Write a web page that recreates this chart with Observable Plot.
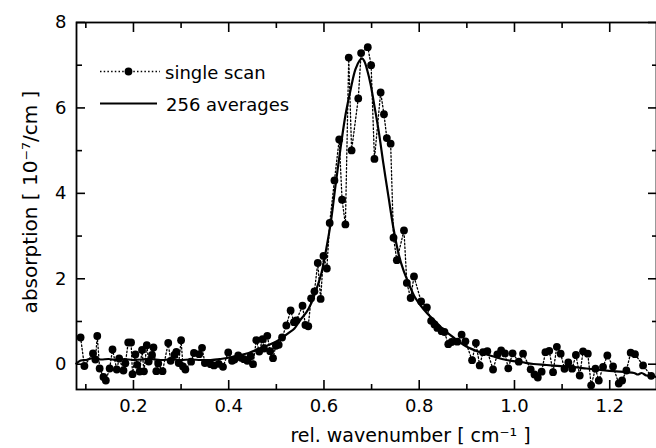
<!DOCTYPE html>
<html><head><meta charset="utf-8">
<script src="https://cdn.jsdelivr.net/npm/d3@7"></script>
<script src="https://cdn.jsdelivr.net/npm/@observablehq/plot@0.6"></script>
<style>
body{margin:0;background:#fff;}
#wrap{position:relative;width:656px;height:448px;overflow:hidden;background:#fff;}
#legend{position:absolute;left:0;top:0;pointer-events:none;}
</style></head><body><div id="wrap"></div>
<script>
// single scan (dotted line with points)
const scanX = [0.089,0.097,0.115,0.120,0.124,0.129,0.137,0.142,0.150,0.156,0.165,0.170,0.179,0.183,0.189,0.195,0.198,0.204,0.208,0.213,0.218,0.222,0.228,0.232,0.239,0.242,0.248,0.252,0.261,0.273,0.278,0.286,0.290,0.295,0.300,0.304,0.309,0.321,0.327,0.338,0.344,0.350,0.362,0.369,0.379,0.388,0.399,0.407,0.412,0.420,0.426,0.432,0.439,0.446,0.451,0.458,0.464,0.471,0.474,0.481,0.487,0.493,0.499,0.505,0.512,0.521,0.530,0.537,0.542,0.555,0.561,0.567,0.573,0.580,0.587,0.593,0.599,0.606,0.612,0.622,0.632,0.638,0.645,0.652,0.658,0.672,0.678,0.692,0.699,0.706,0.719,0.726,0.732,0.740,0.746,0.753,0.768,0.774,0.782,0.789,0.804,0.816,0.825,0.832,0.838,0.847,0.853,0.861,0.868,0.880,0.889,0.897,0.911,0.919,0.927,0.934,0.943,0.955,0.964,0.972,0.980,0.987,0.996,1.009,1.018,1.034,1.042,1.049,1.057,1.065,1.073,1.081,1.089,1.097,1.105,1.113,1.121,1.129,1.137,1.144,1.154,1.161,1.170,1.177,1.186,1.195,1.207,1.219,1.226,1.235,1.244,1.253,1.270,1.287];
const scanY = [0.625,-0.042,0.251,0.110,0.660,-0.101,-0.300,-0.382,-0.101,0.344,-0.124,0.133,-0.148,0.023,0.508,0.508,-0.234,0.227,-0.014,-0.171,0.333,-0.166,0.443,0.063,0.215,0.391,-0.164,0.016,-0.164,0.496,0.080,0.215,0.286,0.028,0.560,-0.054,-0.124,0.059,0.262,0.234,0.384,0.028,0.000,-0.030,0.009,-0.061,0.274,0.080,0.110,0.204,0.150,0.117,0.080,0.187,0.000,0.562,0.297,0.585,0.368,0.665,0.304,0.141,0.431,0.454,0.625,0.906,1.258,0.984,1.023,1.368,0.918,0.888,1.543,1.707,2.370,1.527,2.534,2.241,3.307,4.302,5.262,3.850,3.272,7.178,5.005,6.222,7.283,7.422,7.000,4.806,6.363,5.852,5.293,5.162,2.960,2.436,3.131,1.902,1.550,2.054,1.468,1.328,1.016,0.930,0.848,0.773,0.754,0.468,0.520,0.527,0.691,0.536,0.094,0.496,-0.030,0.281,0.304,-0.124,0.227,0.321,0.251,-0.096,0.255,0.059,0.246,-0.119,-0.241,-0.311,-0.176,0.281,0.314,-0.187,0.407,0.246,-0.108,0.040,-0.105,0.215,-0.265,0.302,0.246,-0.494,-0.105,-0.382,-0.061,0.204,-0.054,-0.452,-0.382,-0.148,0.269,0.234,-0.030,-0.272];
// 256 averages (solid line)
const avgX = [0.080,0.089,0.101,0.116,0.131,0.148,0.164,0.181,0.198,0.215,0.236,0.257,0.278,0.299,0.320,0.341,0.362,0.383,0.400,0.421,0.442,0.463,0.484,0.500,0.513,0.526,0.538,0.551,0.563,0.574,0.584,0.595,0.605,0.614,0.624,0.635,0.645,0.656,0.666,0.675,0.680,0.685,0.691,0.698,0.705,0.715,0.725,0.736,0.746,0.757,0.767,0.778,0.790,0.803,0.817,0.834,0.851,0.872,0.899,0.929,0.956,0.983,1.013,1.040,1.067,1.097,1.124,1.151,1.181,1.208,1.235,1.251,1.259,1.267,1.277,1.288,1.298];
const avgY = [0.016,0.087,0.098,0.145,0.110,0.122,0.098,0.122,0.098,0.110,0.122,0.098,0.110,0.098,0.110,0.098,0.098,0.122,0.150,0.204,0.262,0.356,0.450,0.532,0.625,0.731,0.836,1.047,1.211,1.445,1.749,2.148,2.710,3.295,4.162,5.075,5.824,6.433,6.902,7.112,7.159,7.089,6.878,6.550,6.105,5.450,4.677,3.881,3.178,2.569,2.194,1.890,1.585,1.375,1.187,1.000,0.813,0.625,0.415,0.274,0.180,0.098,0.052,0.005,-0.019,-0.047,-0.070,-0.101,-0.136,-0.164,-0.187,-0.206,-0.241,-0.206,-0.265,-0.276,-0.300];

const xMajor = [0.2, 0.4, 0.6, 0.8, 1.0, 1.2];
const xMinor = [0.1, 0.3, 0.5, 0.7, 0.9, 1.1];
const yMajor = [0, 2, 4, 6, 8];
const yMinor = [1, 3, 5, 7];
const legendLabels = ["single scan", "256 averages"];
const xTitle = "rel. wavenumber [ cm\u207B\u00B9 ]";
const yTitle = "absorption [ 10\u207B\u2077/cm ]";

const scan = scanX.map((x, i) => ({x, y: scanY[i]}));
const avg = avgX.map((x, i) => ({x, y: avgY[i]}));

const tickOpts = {tickFormat: () => "", label: null, strokeWidth: 1.6, stroke: "black"};

const plot = Plot.plot({
  width: 656, height: 448,
  marginTop: 22, marginBottom: 59, marginLeft: 76, marginRight: 0,
  style: {fontFamily: "DejaVu Sans", fontSize: "18px", background: "white", color: "black"},
  x: {domain: [0.0804, 1.2982]},
  y: {domain: [-0.5925, 8]},
  marks: [
    Plot.line(scan, {x: "x", y: "y", stroke: "black", strokeWidth: 1.3, strokeDasharray: "1.5,2.2"}),
    Plot.line(avg, {x: "x", y: "y", stroke: "black", strokeWidth: 2.2, curve: "catmull-rom"}),
    Plot.dot(scan, {x: "x", y: "y", r: 3.9, fill: "black"}),
    Plot.frame({stroke: "black", strokeWidth: 1.8}),
    Plot.axisX(xMajor, {anchor: "bottom", tickSize: -9, ...tickOpts}),
    Plot.axisX(xMinor, {anchor: "bottom", tickSize: -5, ...tickOpts}),
    Plot.axisX(xMajor, {anchor: "top", tickSize: -9, ...tickOpts}),
    Plot.axisX(xMinor, {anchor: "top", tickSize: -5, ...tickOpts}),
    Plot.axisY(yMajor, {anchor: "left", tickSize: -9, ...tickOpts}),
    Plot.axisY(yMinor, {anchor: "left", tickSize: -6, ...tickOpts}),
    Plot.axisY(yMajor, {anchor: "right", tickSize: -9, ...tickOpts}),
    Plot.axisY(yMinor, {anchor: "right", tickSize: -5, ...tickOpts}),
    Plot.axisX(xMajor, {anchor: "bottom", tickSize: 0, tickPadding: 10, tickFormat: d3.format(".1f"), label: null, fill: "black"}),
    Plot.axisY(yMajor, {anchor: "left", tickSize: 0, tickPadding: 10, tickFormat: d => String(d), label: null, fill: "black"}),
    Plot.text([xTitle], {text: d => d, frameAnchor: "bottom", textAnchor: "middle", lineAnchor: "middle", dx: 44, dy: 46, fontSize: 19, fill: "black"}),
    Plot.text([yTitle], {text: d => d, frameAnchor: "left", textAnchor: "middle", lineAnchor: "middle", rotate: -90, dx: -46, dy: -4, fontSize: 20, fill: "black"})
  ]
});

const wrap = document.getElementById("wrap");
wrap.appendChild(plot);

// legend overlay
const lg = d3.select(wrap).append("svg").attr("id", "legend")
  .attr("width", 656).attr("height", 448)
  .attr("font-family", "DejaVu Sans").attr("font-size", 18);
lg.append("line").attr("x1", 100).attr("x2", 160).attr("y1", 71.5).attr("y2", 71.5)
  .attr("stroke", "black").attr("stroke-width", 1.3).attr("stroke-dasharray", "1.5,2.2");
lg.append("circle").attr("cx", 128.5).attr("cy", 71.5).attr("r", 3.9).attr("fill", "black");
lg.append("text").attr("x", 165).attr("y", 79).text(legendLabels[0]);
lg.append("line").attr("x1", 100).attr("x2", 157).attr("y1", 103.5).attr("y2", 103.5)
  .attr("stroke", "black").attr("stroke-width", 2);
lg.append("text").attr("x", 166).attr("y", 111).text(legendLabels[1]);
</script>
</body></html>
